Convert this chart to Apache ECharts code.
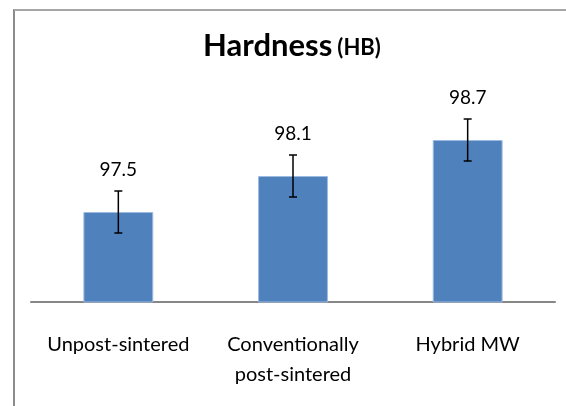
<!DOCTYPE html>
<html>
<head>
<meta charset="utf-8">
<script src="https://cdn.jsdelivr.net/npm/echarts@6/dist/echarts.min.js"></script>
<style>
  html, body { margin: 0; padding: 0; background: #fff; }
  #frame {
    position: absolute; left: 13px; top: 9px; width: 600px; height: 420px;
    border-left: 2px solid #8c8c8c; border-top: 2px solid #a6a6a6;
  }
  #chart { position: absolute; left: 0; top: 0; width: 566px; height: 406px; }
</style>
</head>
<body>
<div id="frame"></div>
<div id="chart"></div>
<script>
// data
var categories = ["Unpost-sintered", "Conventionally\npost-sintered", "Hybrid MW"];
var hardness = [97.5, 98.1, 98.7];
var errors = [0.35, 0.35, 0.35];

var fontFamily = "Lato";
var chart = echarts.init(document.getElementById("chart"), null, { renderer: "canvas" });

var errorData = hardness.map(function (v, i) {
  return [i, v - errors[i], v + errors[i]];
});

chart.setOption({
  animation: false,
  title: {
    text: "{a|Hardness} {b|(HB)}",
    left: 287,
    textAlign: "center",
    top: 25,
    textStyle: {
      rich: {
        a: { fontFamily: fontFamily, fontSize: 31, fontWeight: "bold", color: "#000" },
        b: { fontFamily: fontFamily, fontSize: 22, fontWeight: "bold", color: "#000", padding: [5, 0, 0, 0] }
      }
    }
  },
  grid: {
    left: 31,
    right: 11,
    top: 122,
    bottom: 104,
    containLabel: false
  },
  xAxis: {
    type: "category",
    data: categories,
    axisLine: { lineStyle: { color: "#878787", width: 2 } },
    axisTick: { show: false },
    axisLabel: {
      interval: 0,
      margin: 28,
      color: "#000",
      fontFamily: fontFamily,
      fontSize: 20,
      lineHeight: 30
    }
  },
  yAxis: {
    type: "value",
    min: 96,
    max: 99,
    show: false,
    splitLine: { show: false }
  },
  series: [
    {
      type: "bar",
      data: hardness,
      barWidth: "40%",
      itemStyle: {
        color: "#4f81bd",
        borderColor: "#9dbbe0",
        borderWidth: 1
      },
      label: {
        show: true,
        position: "top",
        distance: 33,
        color: "#000",
        fontFamily: fontFamily,
        fontSize: 19
      },
      z: 2
    },
    {
      // error bars
      type: "custom",
      data: errorData,
      z: 3,
      renderItem: function (params, api) {
        var x = api.value(0);
        var lo = api.coord([x, api.value(1)]);
        var hi = api.coord([x, api.value(2)]);
        var cap = 4;
        var style = { stroke: "#000", lineWidth: 1.5 };
        return {
          type: "group",
          children: [
            { type: "line", shape: { x1: hi[0], y1: hi[1], x2: lo[0], y2: lo[1] }, style: style },
            { type: "line", shape: { x1: hi[0] - cap, y1: hi[1], x2: hi[0] + cap, y2: hi[1] }, style: style },
            { type: "line", shape: { x1: lo[0] - cap, y1: lo[1], x2: lo[0] + cap, y2: lo[1] }, style: style }
          ]
        };
      }
    }
  ]
});
</script>
</body>
</html>
